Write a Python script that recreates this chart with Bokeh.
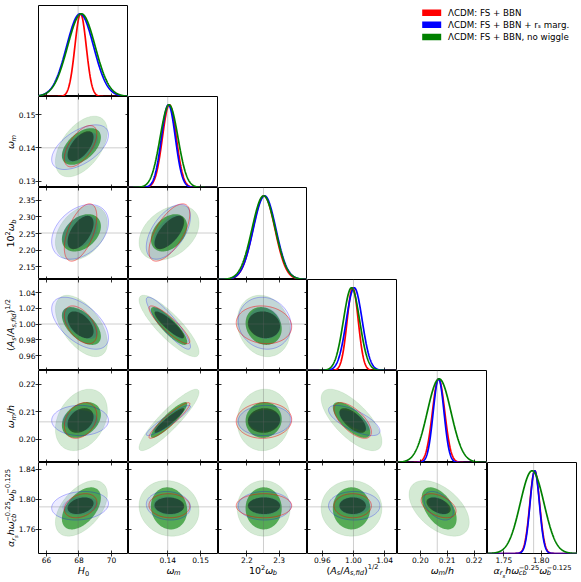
import numpy as np
from bokeh.plotting import figure
from bokeh.models import (Range1d, LinearAxis, FixedTicker, PrintfTickFormatter, Span,
                          GridBox, ColumnDataSource)
from bokeh.core.properties import value, field
from bokeh.embed import file_html
from bokeh.resources import INLINE

# ---------------- data ----------------
PARAMS = ["H0", "omega_m", "1e2 omega_b", "sqrt(As/As_fid)", "omega_m/h", "alpha_rs"]
RANGES = [(65.51, 71.05), (0.1281, 0.1554), (2.112, 2.388), (0.941, 1.0565), (0.1915, 0.2250), (1.728, 1.849)]
FIDUCIAL = [67.95, 0.1400, 2.2515, 1.000, 0.2063, 1.790]
XTICKS = [[66, 68, 70], [0.14, 0.15], [2.2, 2.3], [0.96, 1.00, 1.04], [0.20, 0.21, 0.22], [1.75, 1.80]]
YTICKS = [[], [0.13, 0.14, 0.15], [2.15, 2.20, 2.25, 2.30, 2.35], [0.96, 0.98, 1.00, 1.02, 1.04],
          [0.20, 0.21, 0.22], [1.76, 1.80, 1.84]]
XFMT = ["%d", "%.2f", "%.1f", "%.2f", "%.2f", "%.2f"]
YFMT = ["%.2f", "%.2f", "%.2f", "%.2f", "%.2f", "%.2f"]

SERIES = ["ΛCDM: FS + BBN", "ΛCDM: FS + BBN + rₛ marg.", "ΛCDM: FS + BBN, no wiggle"]
COLORS = ["#ff0000", "#0000ff", "#008000"]

# 1D marginals (mean, sigma)
MEAN_RED = [68.10, 0.1405, 2.253, 0.9990, 0.2068, 1.7915]
MEAN_BLUE = [68.07, 0.1402, 2.255, 1.0010, 0.2068, 1.7915]
MEAN_GREEN = [68.15, 0.1404, 2.252, 0.9975, 0.2070, 1.7880]
SIG_RED = [0.35, 0.0021, 0.034, 0.0071, 0.0023, 0.0066]
SIG_BLUE = [0.83, 0.0021, 0.035, 0.0102, 0.0020, 0.0063]
SIG_GREEN = [0.85, 0.0027, 0.036, 0.0104, 0.0044, 0.0160]

# 2D contours: half-widths of outer (95%) and inner (68%) regions
OUT_RED = [1.00, 0.0062, 0.086, 0.024, 0.0065, 0.016]
IN_RED = [0.80, 0.0045, 0.050, 0.017, 0.0045, 0.011]
OUT_BLUE = [1.75, 0.0067, 0.082, 0.033, 0.0055, 0.019]
IN_BLUE = [1.10, 0.0045, 0.050, 0.020, 0.0038, 0.012]
OUT_GREEN = [1.60, 0.0091, 0.082, 0.039, 0.0112, 0.037]
IN_GREEN = [1.20, 0.0055, 0.056, 0.024, 0.0065, 0.028]

PAIRS = [(1, 0), (2, 0), (2, 1), (3, 0), (3, 1), (3, 2), (4, 0), (4, 1), (4, 2), (4, 3),
         (5, 0), (5, 1), (5, 2), (5, 3), (5, 4)]
RHO_RED = [0.60, 0.55, 0.65, -0.50, -0.88, -0.10, 0.30, 0.93, 0.05, -0.65, 0.30, -0.05, 0.0, 0.0, -0.45]
RHO_BLUE = [0.55, 0.35, 0.55, -0.55, -0.90, -0.10, 0.00, 0.93, 0.05, -0.70, 0.15, -0.10, 0.0, 0.0, -0.45]
RHO_GREEN = [0.50, 0.35, 0.35, -0.55, -0.85, -0.15, 0.30, 0.90, 0.05, -0.70, 0.50, -0.10, 0.0, 0.0, -0.50]

# axis labels (text, kind)
AXIS_LABELS = [
    [("H", "i"), ("0", "sub")],
    [("ω", "i"), ("m", "subi")],
    [("10", "n"), ("2", "sup"), ("ω", "i"), ("b", "subi")],
    [("(", "n"), ("A", "i"), ("s", "subi"), ("/", "n"), ("A", "i"), ("s,fid", "subi"), (")", "n"), ("1/2", "sup")],
    [("ω", "i"), ("m", "subi"), ("/", "n"), ("h", "i")],
    [("α", "i"), ("r", "subi"), ("s", "subsub"), ("h", "i"), ("ω", "i"), (("cb", "−0.25"), "stack"),
     ("ω", "i"), (("b", "−0.125"), "stack")],
]

# ---------------- layout / styling ----------------
N = 6
COLW = [90, 90, 89, 90, 90, 90]
ROWH = [91, 91, 92, 91, 92, 91]
LEFT, TOP, BOTTOM = 38, 5, 28
TOTAL_W = LEFT + sum(COLW)
TOTAL_H = TOP + sum(ROWH) + BOTTOM
COL_X = [LEFT + sum(COLW[:c]) for c in range(N)]
ROW_Y = [TOP + sum(ROWH[:r]) for r in range(N)]
FONT = "DejaVu Sans"
TICK_FS = "7.5px"
MAIN, SCRIPT, SCRIPT2 = 9.5, 6.7, 5.3
MID = 0.346  # em offset from baseline to middle of the em box
XLAB_BASE = 573.0  # baseline (page px) of the x-axis labels
YLAB_BASE = 13.5   # baseline (page px) of the rotated y-axis labels

DATASETS = {
    "red": dict(color=COLORS[0], mean=MEAN_RED, sig=SIG_RED, out=OUT_RED, inn=IN_RED, rho=RHO_RED),
    "blue": dict(color=COLORS[1], mean=MEAN_BLUE, sig=SIG_BLUE, out=OUT_BLUE, inn=IN_BLUE, rho=RHO_BLUE),
    "green": dict(color=COLORS[2], mean=MEAN_GREEN, sig=SIG_GREEN, out=OUT_GREEN, inn=IN_GREEN, rho=RHO_GREEN),
}

WID = {'0': .636, '1': .636, '2': .636, '3': .636, '4': .636, '5': .636, '6': .636, '7': .636, '8': .636,
       '9': .636, '.': .318, ',': .318, '(': .39, ')': .39, '/': .337, '−': .838, '-': .361, 'A': .684,
       'H': .752, 'b': .635, 'c': .55, 'd': .635, 'f': .352, 'h': .634, 'i': .278, 'm': .974, 'r': .411,
       's': .521, 'ω': .79, 'α': .66, ' ': .318}


def text_width(s, size):
    return size * sum(WID.get(ch, 0.6) for ch in s)


def layout_label(pieces):
    runs = []
    x = 0.0
    for txt, kind in pieces:
        if kind in ("n", "i"):
            runs.append((txt, x, 0.0, MAIN, kind == "i"))
            x += text_width(txt, MAIN)
        elif kind in ("sub", "subi"):
            runs.append((txt, x, -2.3, SCRIPT, kind == "subi"))
            x += text_width(txt, SCRIPT)
        elif kind == "sup":
            runs.append((txt, x, 4.0, SCRIPT, False))
            x += text_width(txt, SCRIPT)
        elif kind == "subsub":
            runs.append((txt, x, -4.0, SCRIPT2, True))
            x += text_width(txt, SCRIPT2)
        elif kind == "stack":
            lo, hi = txt
            runs.append((lo, x, -2.3, SCRIPT, True))
            runs.append((hi, x, 4.0, SCRIPT, False))
            x += max(text_width(lo, SCRIPT), text_width(hi, SCRIPT))
    return runs, x


def make_axis(ticks, fmt, loc, labeled):
    ax = LinearAxis(ticker=FixedTicker(ticks=ticks, minor_ticks=[]),
                    formatter=PrintfTickFormatter(format=fmt))
    if not labeled:
        ax.fixed_location = loc
    ax.axis_line_color = None
    ax.major_tick_line_color = "black"
    ax.major_tick_line_width = 0.8
    ax.minor_tick_line_color = None
    ax.major_tick_in = 3
    if labeled:
        ax.major_tick_out = 3
        ax.major_label_text_font_size = TICK_FS
        ax.major_label_text_font = FONT
        ax.major_label_standoff = 0
        ax.major_label_text_color = "black"
    else:
        ax.major_tick_out = 0
        ax.major_label_text_font_size = "0px"
        ax.major_label_standoff = 0
        ax.major_label_text_alpha = 0
    return ax


T = np.linspace(0, 2 * np.pi, 140)


def ellipse(cx, cy, hx, hy, rho):
    x = cx + hx * np.cos(T)
    y = cy + hy * (rho * np.cos(T) + np.sqrt(1 - rho ** 2) * np.sin(T))
    return x, y


def make_fig(r, c):
    bl = LEFT if c == 0 else 0
    bt = TOP if r == 0 else 0
    bb = BOTTOM if r == N - 1 else 0
    xr = Range1d(*RANGES[c])
    yr = Range1d(0, 1.1) if r == c else Range1d(*RANGES[r])
    p = figure(width=COLW[c] + bl, height=ROWH[r] + bt + bb, x_range=xr, y_range=yr,
               toolbar_location=None, output_backend="svg",
               x_axis_location=None, y_axis_location=None,
               min_border_left=bl, min_border_right=0, min_border_top=bt, min_border_bottom=bb)
    p.outline_line_color = "black"
    p.outline_line_width = 1
    p.grid.grid_line_color = None
    return p


def fid_span(loc, dim):
    return Span(location=loc, dimension=dim, line_color="#666666", line_dash="1 1",
                line_width=0.8, line_alpha=0.8)


children = []
for r in range(N):
    for c in range(r + 1):
        p = make_fig(r, c)
        xlo, xhi = RANGES[c]
        p.add_layout(make_axis(XTICKS[c], XFMT[c], p.y_range.start, r == N - 1), "below")
        if r == c:
            xs = np.linspace(xlo, xhi, 400)
            p.add_layout(fid_span(FIDUCIAL[c], "height"))
            for name in ["red", "blue", "green"]:
                d = DATASETS[name]
                ys = np.exp(-0.5 * ((xs - d["mean"][c]) / d["sig"][c]) ** 2)
                p.line(xs, ys, line_color=d["color"], line_width=1.7)
        else:
            ylo, yhi = RANGES[r]
            p.add_layout(make_axis(XTICKS[c], XFMT[c], yhi, False), "above")
            p.add_layout(make_axis(YTICKS[r], YFMT[r], xlo, c == 0), "left")
            p.add_layout(make_axis(YTICKS[r], YFMT[r], xhi, False), "right")
            k = PAIRS.index((r, c))
            shapes = {}
            for name, d in DATASETS.items():
                shapes[name] = {
                    "out": ellipse(d["mean"][c], d["mean"][r], d["out"][c], d["out"][r], d["rho"][k]),
                    "in": ellipse(d["mean"][c], d["mean"][r], d["inn"][c], d["inn"][r], d["rho"][k]),
                }
            gx, gy = shapes["green"]["out"]
            p.patch(gx, gy, fill_color="#008000", fill_alpha=0.17, line_color="#008000", line_alpha=0.15,
                    line_width=0.6)
            bx, by = shapes["blue"]["out"]
            p.patch(bx, by, fill_color="#0000ff", fill_alpha=0.08, line_color=None)
            rx, ry = shapes["red"]["out"]
            p.patch(rx, ry, fill_color="#404040", fill_alpha=0.10, line_color=None)
            gx, gy = shapes["green"]["in"]
            p.patch(gx, gy, fill_color="#008000", fill_alpha=0.6, line_color=None)
            bx2, by2 = shapes["blue"]["in"]
            p.patch(bx2, by2, fill_color="#0000ff", fill_alpha=0.12, line_color=None)
            rx2, ry2 = shapes["red"]["in"]
            p.patch(rx2, ry2, fill_color="#000000", fill_alpha=0.45, line_color=None)
            p.line(bx, by, line_color="#0000ff", line_alpha=0.35, line_width=0.8)
            p.line(rx, ry, line_color="#ff0000", line_alpha=0.6, line_width=0.8)
            p.add_layout(fid_span(FIDUCIAL[c], "height"))
            p.add_layout(fid_span(FIDUCIAL[r], "width"))
        children.append((p, r, c))

# ---------------- overlay: axis labels and legend ----------------
ov = figure(width=TOTAL_W, height=TOTAL_H, x_range=Range1d(0, TOTAL_W), y_range=Range1d(0, TOTAL_H),
            toolbar_location=None, output_backend="svg", x_axis_location=None, y_axis_location=None,
            min_border_left=0, min_border_right=0, min_border_top=0, min_border_bottom=0)
ov.frame_align = False
ov.outline_line_color = None
ov.background_fill_color = None
ov.border_fill_color = None
ov.grid.grid_line_color = None

lab = dict(x=[], y=[], text=[], size=[], style=[], angle=[])
for c in range(N):  # bottom labels
    runs, total = layout_label(AXIS_LABELS[c])
    x0 = COL_X[c] + COLW[c] / 2 - total / 2
    base = TOTAL_H - XLAB_BASE
    for txt, dx, dy, size, ital in runs:
        lab["x"].append(x0 + dx)
        lab["y"].append(base + dy + MID * size)
        lab["text"].append(txt)
        lab["size"].append(f"{size}px")
        lab["style"].append("italic" if ital else "normal")
        lab["angle"].append(0.0)
for r in range(1, N):  # left labels (vertical)
    runs, total = layout_label(AXIS_LABELS[r])
    y0 = TOTAL_H - (ROW_Y[r] + ROWH[r] / 2) - total / 2
    for txt, dx, dy, size, ital in runs:
        lab["x"].append(YLAB_BASE - dy - MID * size)
        lab["y"].append(y0 + dx)
        lab["text"].append(txt)
        lab["size"].append(f"{size}px")
        lab["style"].append("italic" if ital else "normal")
        lab["angle"].append(np.pi / 2)
ov.text(x="x", y="y", text="text", angle="angle", source=ColumnDataSource(lab),
        text_font=value(FONT), text_font_size=field("size"), text_font_style=field("style"),
        text_align=value("left"), text_baseline=value("middle"), text_color="black")

# legend (swatches + labels)
LEG_Y = [TOTAL_H - 12.2, TOTAL_H - 24.3, TOTAL_H - 36.4]
ov.rect(x=[431.2] * 3, y=LEG_Y, width=19, height=6.5, width_units="screen", height_units="screen",
        fill_color=COLORS, line_color=None)
ov.text(x=[447.5] * 3, y=LEG_Y, text=SERIES, text_font=value(FONT), text_font_size=value("8.7px"),
        text_align=value("left"), text_baseline=value("middle"), text_color="black")

children.append((ov, 0, 0, N, N))

grid = GridBox(children=children, spacing=0)
open("out.html", "w").write(file_html(grid, INLINE))
